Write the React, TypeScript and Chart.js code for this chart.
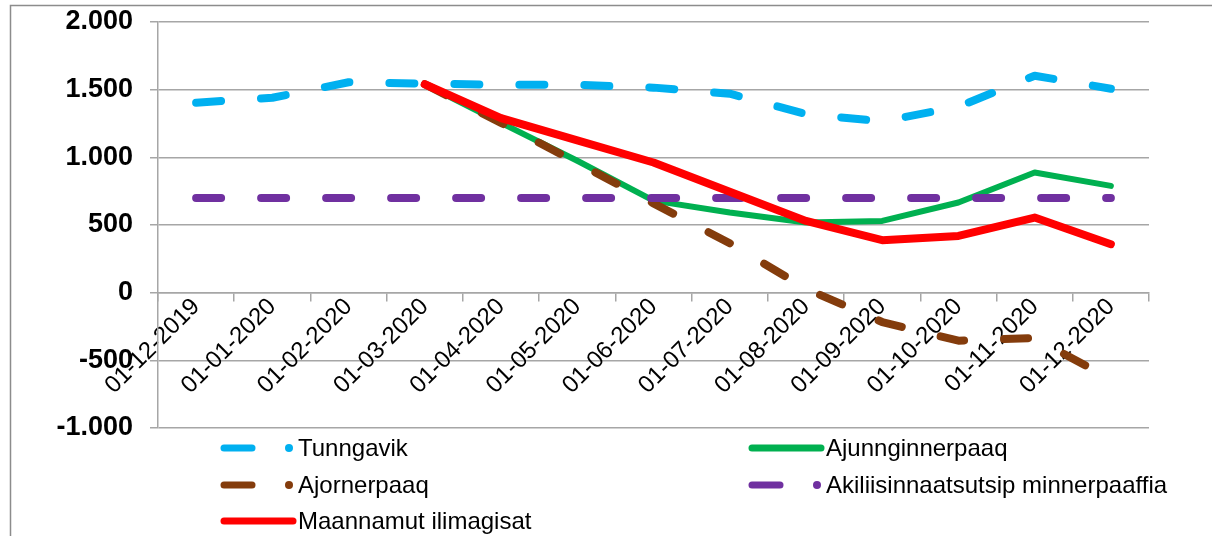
import React, { useEffect, useRef } from 'react';
import { Chart, registerables } from 'chart.js';

Chart.register(...registerables);

const categories = [
  '01-12-2019', '01-01-2020', '01-02-2020', '01-03-2020', '01-04-2020', '01-05-2020',
  '01-06-2020', '01-07-2020', '01-08-2020', '01-09-2020', '01-10-2020', '01-11-2020', '01-12-2020',
];

const tunngavik = [1404, 1440, 1555, 1545, 1536, 1536, 1515, 1470, 1320, 1266, 1374, 1603, 1507];
const ajunnginnerpaaq = [null, null, null, 1540, 1255, 975, 680, 592, 518, 530, 666, 888, 789];
const ajornerpaaq = [null, null, null, 1540, 1255, 960, 660, 365, 30, -217, -355, -335, -640];
const akiliisinnaatsutsip = [700, 700, 700, 700, 700, 700, 700, 700, 700, 700, 700, 700, 700];
const maannamut = [null, null, null, 1540, 1290, 1125, 962, 745, 530, 388, 419, 555, 358];

const seriesNames = [
  'Tunngavik',
  'Ajunnginnerpaaq',
  'Ajornerpaaq',
  'Akiliisinnaatsutsip minnerpaaffia',
  'Maannamut ilimagisat',
];

const yMin = -1000;
const yMax = 2000;
const yStep = 500;

const FONT = "'Liberation Sans', Arial, sans-serif";
const GRID = '#a6a6a6';

const fmt = (v: number) => {
  const s = Math.abs(v).toString().replace(/\B(?=(\d{3})+(?!\d))/g, '.');
  return (v < 0 ? '-' : '') + s;
};

const framePlugin = {
  id: 'frame',
  beforeDraw(chart: any) {
    const ctx = chart.ctx;
    ctx.save();
    ctx.fillStyle = '#ffffff';
    ctx.fillRect(0, 0, chart.width, chart.height);
    ctx.strokeStyle = '#8c8c8c';
    ctx.lineWidth = 1.5;
    ctx.beginPath();
    ctx.moveTo(10.5, chart.height + 2);
    ctx.lineTo(10.5, 5.5);
    ctx.lineTo(chart.width + 2, 5.5);
    ctx.stroke();
    ctx.restore();
  },
};

const legendPlugin = {
  id: 'customLegend',
  afterDraw(chart: any) {
    const ctx = chart.ctx;
    const slots = [
      { x: 224, y: 448 },
      { x: 752, y: 448 },
      { x: 224, y: 485 },
      { x: 752, y: 485 },
      { x: 224, y: 521 },
    ];
    ctx.save();
    chart.data.datasets.forEach((ds: any, i: number) => {
      const s = slots[i];
      const dashed = ds.borderDash && ds.borderDash.length > 0;
      ctx.strokeStyle = ds.borderColor;
      ctx.fillStyle = ds.borderColor;
      ctx.lineCap = 'round';
      ctx.lineWidth = 7;
      ctx.setLineDash([]);
      ctx.beginPath();
      if (dashed) {
        ctx.moveTo(s.x, s.y);
        ctx.lineTo(s.x + 28, s.y);
        ctx.stroke();
        ctx.beginPath();
        ctx.arc(s.x + 65, s.y, 4, 0, Math.PI * 2);
        ctx.fill();
      } else {
        ctx.moveTo(s.x, s.y);
        ctx.lineTo(s.x + 69, s.y);
        ctx.stroke();
      }
      ctx.fillStyle = '#000000';
      ctx.font = `24px ${FONT}`;
      ctx.textBaseline = 'middle';
      ctx.textAlign = 'left';
      ctx.fillText(ds.label, s.x + 74, s.y + 1);
    });
    ctx.restore();
  },
};

const zeroPad = (s: any) => {
  s.paddingTop = 0;
  s.paddingBottom = 0;
  s.paddingLeft = 0;
  s.paddingRight = 0;
};

export default function App() {
  const ref = useRef<HTMLCanvasElement | null>(null);

  useEffect(() => {
    if (!ref.current) return;
    const common = { pointRadius: 0, pointHoverRadius: 0, tension: 0, fill: false, spanGaps: false, borderCapStyle: 'round' as const, borderJoinStyle: 'round' as const };
    const chart = new Chart(ref.current, {
      type: 'line',
      data: {
        labels: categories,
        datasets: [
          { ...common, label: seriesNames[0], data: tunngavik, borderColor: '#00b0f0', backgroundColor: '#00b0f0', borderWidth: 8, borderDash: [25, 40], order: 4 },
          { ...common, label: seriesNames[1], data: ajunnginnerpaaq, borderColor: '#00b050', backgroundColor: '#00b050', borderWidth: 6, borderDash: [], order: 3 },
          { ...common, label: seriesNames[2], data: ajornerpaaq, borderColor: '#843c0c', backgroundColor: '#843c0c', borderWidth: 8, borderDash: [24, 40], order: 2 },
          { ...common, label: seriesNames[3], data: akiliisinnaatsutsip, borderColor: '#7030a0', backgroundColor: '#7030a0', borderWidth: 8, borderDash: [25, 40], order: 1 },
          { ...common, label: seriesNames[4], data: maannamut, borderColor: '#ff0000', backgroundColor: '#ff0000', borderWidth: 8, borderDash: [], order: 0 },
        ],
      },
      options: {
        animation: false,
        responsive: false,
        maintainAspectRatio: false,
        devicePixelRatio: 1,
        layout: { padding: { left: 0, top: 22, right: 63, bottom: 108 } },
        plugins: {
          legend: { display: false },
          title: { display: false },
          tooltip: { enabled: false },
        },
        scales: {
          x: {
            type: 'category',
            position: { y: 0 } as any,
            offset: true,
            afterFit: zeroPad,
            grid: { display: true, drawOnChartArea: false, drawTicks: true, tickLength: 8, offset: true, color: GRID, lineWidth: 1.5 },
            border: { display: true, color: GRID, width: 1.5 },
            ticks: { autoSkip: false, maxRotation: 45, minRotation: 45, padding: -8, color: '#000000', font: { family: FONT, size: 24 } },
          },
          y: {
            type: 'linear',
            min: yMin,
            max: yMax,
            afterFit: (s: any) => { s.width = 158; zeroPad(s); },
            grid: { color: GRID, lineWidth: 1.5, tickLength: 8, drawTicks: true },
            border: { display: true, color: GRID, width: 1.5 },
            ticks: { stepSize: yStep, padding: 17, color: '#000000', font: { family: FONT, size: 27, weight: 'bold' }, callback: (v: any) => fmt(Number(v)) },
          },
        },
      },
      plugins: [framePlugin, legendPlugin],
    });
    return () => chart.destroy();
  }, []);

  return (
    <div style={{ position: 'absolute', left: 0, top: 0, width: 1212, height: 536, background: '#fff' }}>
      <canvas ref={ref} width={1212} height={536} style={{ width: 1212, height: 536, display: 'block' }} />
    </div>
  );
}
